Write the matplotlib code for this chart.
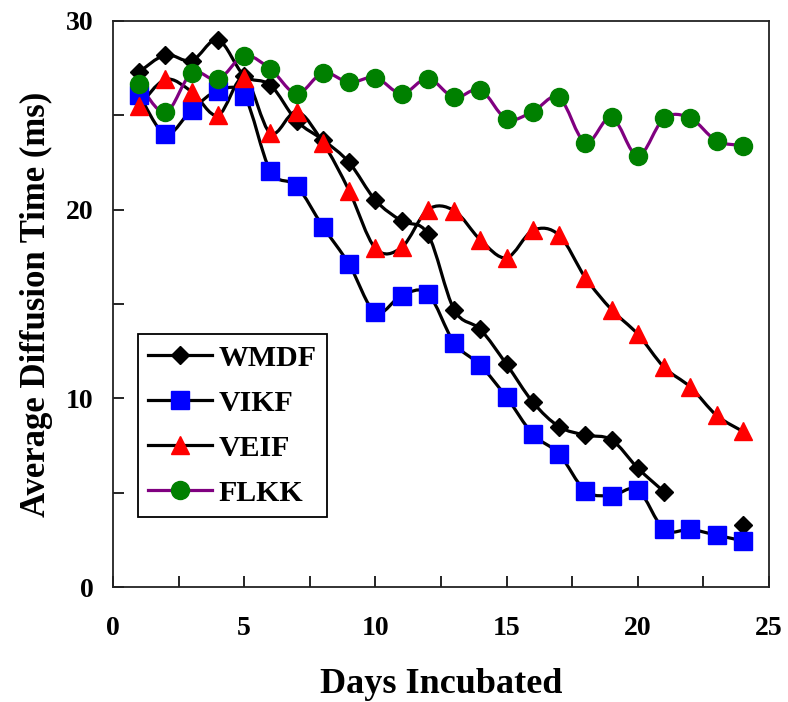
import numpy as np
import matplotlib
matplotlib.use("Agg")
import matplotlib.pyplot as plt
from matplotlib.path import Path
from matplotlib.patches import PathPatch
from matplotlib.lines import Line2D
from matplotlib.ticker import MultipleLocator

plt.rcParams["font.family"] = "Liberation Serif"
plt.rcParams["font.weight"] = "bold"

days = list(range(1, 25))

# average diffusion time (ms) per day; NaN = not measured
wmdf = [27.3, 28.2, 27.9, 29.0, 27.1, 26.6, 24.7, 23.7, 22.5, 20.5, 19.4, 18.7,
        14.7, 13.65, 11.8, 9.8, 8.5, 8.05, 7.8, 6.3, 5.05, np.nan, np.nan, 3.3]
vikf = [26.1, 24.0, 25.3, 26.3, 26.05, 22.05, 21.25, 19.1, 17.1, 14.55, 15.45, 15.55,
        12.95, 11.75, 10.05, 8.1, 7.05, 5.1, 4.85, 5.15, 3.05, 3.05, 2.75, 2.45]
veif = [25.5, 26.9, 26.25, 25.0, 27.0, 24.05, 25.2, 23.55, 21.0, 17.95, 18.0, 20.0,
        19.95, 18.4, 17.45, 18.9, 18.65, 16.4, 14.7, 13.4, 11.65, 10.6, 9.1, 8.25]
flkk = [26.65, 25.15, 27.25, 26.9, 28.15, 27.45, 26.15, 27.25, 26.75, 27.0, 26.15, 26.95,
        25.95, 26.35, 24.8, 25.2, 25.95, 23.55, 24.9, 22.85, 24.85, 24.85, 23.65, 23.4]

series = [
    ("WMDF", wmdf, "black", "D", "black", 9.5),
    ("VIKF", vikf, "black", "s", "#0000ff", 13),
    ("VEIF", veif, "black", "^", "#ff0000", 13),
    ("FLKK", flkk, "#800080", "o", "#008000", 13),
]


def smooth_path(x, y):
    """Cubic Bezier through the points (Catmull-Rom style tangents)."""
    pts = np.column_stack([x, y])
    n = len(pts)
    verts = [pts[0]]
    codes = [Path.MOVETO]
    for i in range(n - 1):
        p0 = pts[max(i - 1, 0)]
        p1 = pts[i]
        p2 = pts[i + 1]
        p3 = pts[min(i + 2, n - 1)]
        c1 = p1 + (p2 - p0) / 6.0
        c2 = p2 - (p3 - p1) / 6.0
        verts += [c1, c2, p2]
        codes += [Path.CURVE4] * 3
    return Path(verts, codes)


fig = plt.figure(figsize=(7.88, 7.02), dpi=100)
ax = fig.add_axes([0.1434, 0.1638, 0.8325, 0.8063])

for name, vals, lc, mk, mc, ms in series:
    x = np.array(days, dtype=float)
    y = np.array(vals, dtype=float)
    ok = ~np.isnan(y)
    # split into runs of consecutive measured days
    idx = np.where(ok)[0]
    runs = np.split(idx, np.where(np.diff(idx) > 1)[0] + 1)
    for r in runs:
        if len(r) > 1:
            ax.add_patch(PathPatch(smooth_path(x[r], y[r]), facecolor="none",
                                   edgecolor=lc, lw=2.3, zorder=2))
    ax.plot(x[ok], y[ok], ls="none", marker=mk, ms=ms, mfc=mc, mec=mc, zorder=3)

ax.set_xlim(0, 25)
ax.set_ylim(0, 30)
ax.xaxis.set_major_locator(MultipleLocator(5))
ax.xaxis.set_minor_locator(MultipleLocator(2.5))
ax.yaxis.set_major_locator(MultipleLocator(10))
ax.yaxis.set_minor_locator(MultipleLocator(5))
ax.tick_params(which="both", direction="in", length=8, width=1.2, top=False, right=False)
ax.tick_params(axis="x", which="major", pad=21, labelsize=20)
ax.tick_params(axis="y", which="major", pad=14, labelsize=20)
for sp in ax.spines.values():
    sp.set_linewidth(1.3)
    sp.set_color("#222222")

ax.set_xlabel("Days Incubated", fontsize=26, fontweight="bold", labelpad=19)
ax.set_ylabel("Average Diffusion Time (ms)", fontsize=25, fontweight="bold", labelpad=9)

handles = [Line2D([], [], color=lc, lw=2.3, marker=mk, ms=ms, mfc=mc, mec=mc)
           for name, vals, lc, mk, mc, ms in series]
labels = [s[0] for s in series]
leg = ax.legend(handles, labels, loc="lower left", bbox_to_anchor=(0.0377, 0.1237),
                borderaxespad=0, fancybox=False, edgecolor="black", framealpha=1,
                prop={"size": 21.5, "weight": "bold"}, handlelength=2.15,
                labelspacing=0.6, handletextpad=0.2, borderpad=0.35)
leg.get_frame().set_linewidth(1.3)

fig.savefig("out.png", dpi=100)
